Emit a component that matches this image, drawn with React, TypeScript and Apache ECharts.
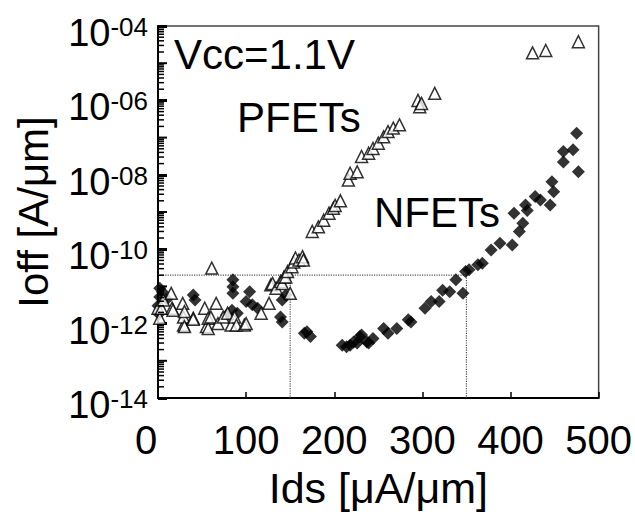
import React, { useEffect, useRef } from "react";
import * as echarts from "echarts";

// Ids [uA/um], Ioff [A/um]
const pfetIds = [
  0, 2, 4, 6, 15, 16, 17, 28, 29, 29, 30, 30, 40, 40, 53, 55, 57, 57, 60, 61,
  66, 68, 74, 79, 83, 87, 89, 98, 100, 117, 126, 128, 130, 134, 139, 141, 143, 145,
  147, 150, 152, 154, 156, 160, 164, 165, 175, 182, 188, 194, 199, 201, 207, 216,
  218, 226, 231, 239, 244, 250, 256, 261, 267, 274, 295, 297, 299, 314, 425, 440, 477,
];
const pfetIoff = [
  2.6e-12, 1.4e-12, 2.6e-12, 4.3e-12, 6.5e-12, 2.6e-12, 2.3e-12, 3.5e-12, 9.1e-13, 1.5e-12,
  2.1e-12, 8.3e-13, 1.4e-12, 1.3e-12, 2.6e-12, 8.3e-13, 1.4e-12, 7.4e-13, 1.5e-12, 3.1e-11,
  3.5e-12, 1.0e-12, 1.5e-12, 1.9e-12, 9.1e-13, 1.5e-12, 9.1e-13, 9.1e-13, 1.0e-12, 1.9e-12,
  3.5e-12, 1.1e-11, 1.2e-11, 8.9e-12, 1.35e-11, 1.2e-11, 1.8e-11, 1.8e-11,
  2.5e-11, 6.5e-12, 3.4e-11, 4.5e-11, 5.8e-11, 5.1e-11, 6.3e-11, 5.1e-11, 3.0e-10, 4.0e-10,
  6.0e-10, 9.3e-10, 1.26e-9, 1.5e-9, 2.0e-9, 7.2e-9,
  1.1e-8, 1.2e-8, 3.1e-8, 3.8e-8, 5.1e-8, 7.1e-8, 1.05e-7, 1.45e-7, 1.8e-7, 2.2e-7, 1.0e-6, 6.8e-7,
  8.3e-7, 1.55e-6, 1.9e-5, 2.2e-5, 3.8e-5,
];

const nfetIds = [
  0, 1, 2, 2, 5, 10, 40, 42, 78, 84, 85, 85, 85, 90, 100, 104, 107, 113, 139, 141, 141,
  145, 166, 169, 173, 209, 214, 218, 222, 226, 229, 231, 237, 239, 244, 256, 261, 271, 284,
  287, 303, 310, 319, 323, 331, 338, 346, 349, 353, 363, 368, 378, 388, 402, 404, 410, 414,
  417, 419, 428, 434, 445, 447, 449, 460, 460, 471, 475, 477,
];
const nfetIoff = [
  3.0e-12, 1.8e-12, 8.9e-12, 5.2e-12, 7.1e-12, 4.5e-12, 5.9e-12, 4.3e-12, 1.7e-12, 2.3e-12, 1.5e-11,
  9.8e-12, 6.5e-12, 1.9e-12, 3.9e-12, 7.2e-12, 3.2e-12, 2.6e-12, 1.5e-12, 4.3e-12, 1.1e-12,
  5.9e-12, 5.5e-13, 6.0e-13, 4.5e-13, 2.6e-13, 2.4e-13, 2.6e-13, 3.2e-13, 3.0e-13, 4.5e-13,
  4.9e-13, 3.2e-13, 3.0e-13, 4.0e-13, 7.4e-13, 5.5e-13, 7.4e-13, 1.26e-12,
  1.1e-12, 2.6e-12, 3.9e-12, 3.9e-12, 7.9e-12, 7.2e-12, 1.5e-11, 6.5e-12, 2.5e-11, 2.8e-11,
  3.8e-11, 4.2e-11, 9.5e-11, 1.45e-10, 1.3e-10, 9.3e-10, 3.0e-10, 5.0e-10,
  1.55e-9, 1.1e-9, 2.6e-9, 2.1e-9, 1.55e-9, 6.5e-9, 3.5e-9, 4.2e-8, 2.2e-8, 4.7e-8, 1.3e-7, 1.2e-8,
];

// reference guide lines
const ioffSpec = 2e-11;
const idsMarks = [150, 350];
const yMin = 1e-14;
const yMax = 1e-4;

// minor tick positions (log axis)
const minorMultipliers = [2, 3, 4, 5, 6, 7, 8, 9];
const decades = [-14, -13, -12, -11, -10, -9, -8, -7, -6, -5];

const FONT = "'Liberation Sans', Arial, sans-serif";

export default function App() {
  const ref = useRef<HTMLDivElement>(null);
  useEffect(() => {
    if (!ref.current) return;
    const chart = echarts.init(ref.current, null, { renderer: "svg" });

    const pfet = pfetIds.map((x, i) => [x, pfetIoff[i]]);
    const nfet = nfetIds.map((x, i) => [x, nfetIoff[i]]);
    // [ids(=0, left edge), ioff, tick length]
    const ticks: number[][] = [];
    decades.forEach((d) => {
      minorMultipliers.forEach((m) => ticks.push([0, m * Math.pow(10, d), 6]));
      if (Math.abs(d) % 2 === 1) ticks.push([0, Math.pow(10, d), 9]);
    });

    const guide = {
      type: "line" as const,
      symbol: "none",
      silent: true,
      z: 1,
      lineStyle: { type: "dotted" as const, color: "#555", width: 1.2 },
    };

    chart.setOption({
      animation: false,
      backgroundColor: "#fff",
      grid: {
        left: 158,
        top: 26,
        right: 33,
        bottom: 117,
        show: true,
        borderColor: "#444",
        borderWidth: 1.5,
      },
      xAxis: {
        type: "value",
        min: 0,
        max: 500,
        interval: 100,
        name: "Ids [μA/μm]",
        nameLocation: "middle",
        nameGap: 68,
        nameTextStyle: { fontFamily: FONT, fontSize: 43, color: "#000" },
        splitLine: { show: false },
        axisLine: { show: true, lineStyle: { color: "#000", width: 2 } },
        axisTick: { show: true, inside: true, length: 6, lineStyle: { color: "#000", width: 1.5 } },
        axisLabel: {
          fontFamily: FONT,
          fontSize: 40,
          color: "#000",
          margin: 22,
          formatter: (v: number) => (v === 0 ? "{z|0}" : String(v)),
          rich: { z: { fontFamily: FONT, fontSize: 40, color: "#000", padding: [0, 24, 0, 0] } },
        },
      },
      yAxis: {
        type: "log",
        logBase: 10,
        min: yMin,
        max: yMax,
        interval: 2,
        name: "Ioff [A/μm]",
        nameLocation: "middle",
        nameGap: 104,
        nameTextStyle: { fontFamily: FONT, fontSize: 42, color: "#000" },
        splitLine: { show: false },
        axisLine: { show: true, lineStyle: { color: "#000", width: 2 } },
        axisTick: { show: true, inside: true, length: 9, lineStyle: { color: "#000", width: 3 } },
        minorTick: { show: false },
        axisLabel: {
          margin: 10,
          padding: [14, 0, 0, 0],
          formatter: (v: number) => {
            const e = Math.round(Math.log10(v));
            const s = (e < 0 ? "-" : "") + String(Math.abs(e)).padStart(2, "0");
            return `{b|10}{s|${s}}`;
          },
          rich: {
            b: { fontFamily: FONT, fontSize: 38, color: "#000", lineHeight: 38, verticalAlign: "bottom" },
            s: { fontFamily: FONT, fontSize: 26, color: "#000", lineHeight: 26, verticalAlign: "top" },
          },
        },
      },
      graphic: [
        { type: "text", x: 174, y: 54, style: { text: "Vcc=1.1V", font: `42px ${FONT}`, fill: "#000", verticalAlign: "middle" } },
        { type: "text", x: 237, y: 117, style: { text: "PFETs", font: `42px ${FONT}`, fill: "#000", verticalAlign: "middle" } },
        { type: "text", x: 374, y: 212, style: { text: "NFETs", font: `42px ${FONT}`, fill: "#000", verticalAlign: "middle" } },
      ],
      series: [
        { ...guide, data: [[0, ioffSpec], [idsMarks[1], ioffSpec]] },
        { ...guide, data: [[idsMarks[0], ioffSpec], [idsMarks[0], yMin]] },
        { ...guide, data: [[idsMarks[1], ioffSpec], [idsMarks[1], yMin]] },
        {
          name: "NFETs",
          type: "scatter",
          symbol: "diamond",
          symbolSize: 13,
          itemStyle: { color: "#000" },
          z: 3,
          data: nfet,
        },
        {
          name: "PFETs",
          type: "scatter",
          symbol: "triangle",
          symbolSize: 12,
          itemStyle: { color: "#fff", borderColor: "#000", borderWidth: 1.5 },
          z: 4,
          data: pfet,
        },
        {
          type: "custom",
          silent: true,
          clip: false,
          z: 10,
          data: ticks,
          renderItem: (params: any, api: any) => {
            const p = api.coord([api.value(0), api.value(1)]);
            const len = api.value(2);
            return {
              type: "line",
              shape: { x1: p[0], y1: p[1], x2: p[0] + len, y2: p[1] },
              style: { stroke: "#000", lineWidth: len > 6 ? 2 : 1.5 },
            };
          },
        },
      ],
    });
    return () => chart.dispose();
  }, []);
  return <div ref={ref} style={{ position: "absolute", left: 0, top: 0, width: 635, height: 515 }} />;
}
